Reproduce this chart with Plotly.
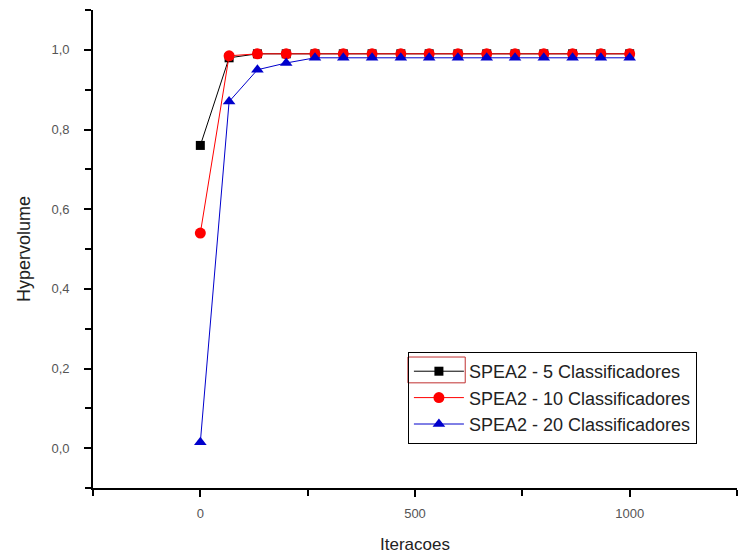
import plotly.graph_objects as go

iteracoes = [0, 67, 133, 200, 267, 333, 400, 467, 533, 600, 667, 733, 800, 867, 933, 1000]
spea2_5 = [0.76, 0.98, 0.99, 0.99, 0.99, 0.99, 0.99, 0.99, 0.99, 0.99, 0.99, 0.99, 0.99, 0.99, 0.99, 0.99]
spea2_10 = [0.54, 0.985, 0.99, 0.99, 0.99, 0.99, 0.99, 0.99, 0.99, 0.99, 0.99, 0.99, 0.99, 0.99, 0.99, 0.99]
spea2_20 = [0.015, 0.87, 0.95, 0.967, 0.98, 0.98, 0.98, 0.98, 0.98, 0.98, 0.98, 0.98, 0.98, 0.98, 0.98, 0.98]

names = ["SPEA2 - 5 Classificadores", "SPEA2 - 10 Classificadores", "SPEA2 - 20 Classificadores"]

fig = go.Figure()
fig.add_trace(go.Scatter(x=iteracoes, y=spea2_5, name=names[0], mode="lines+markers",
                         line=dict(color="black", width=1),
                         marker=dict(symbol="square", size=9, color="black")))
fig.add_trace(go.Scatter(x=iteracoes, y=spea2_10, name=names[1], mode="lines+markers",
                         line=dict(color="red", width=1),
                         marker=dict(symbol="circle", size=11, color="red")))
fig.add_trace(go.Scatter(x=iteracoes, y=spea2_20, name=names[2], mode="lines+markers",
                         line=dict(color="#0000cc", width=1),
                         marker=dict(symbol="triangle-up", size=11, color="#0000cc")))

axis_common = dict(showline=True, linecolor="black", linewidth=1.6, ticks="outside",
                   ticklen=7, tickwidth=1.6, tickcolor="black", showgrid=False, zeroline=False,
                   automargin=False,
                   tickfont=dict(family="Liberation Sans, Arial", size=13, color="#555"),
                   minor=dict(ticks="outside", ticklen=6, tickwidth=1.6, tickcolor="black"))

fig.update_xaxes(range=[-250, 1250], tickvals=[0, 500, 1000], ticktext=["0", "500", "1000"],
                 minor_tickvals=[-250, 250, 750, 1250], ticklabelstandoff=6,
                 title=dict(text="Iteracoes", font=dict(family="Liberation Sans, Arial", size=17, color="#222"), standoff=18),
                 **axis_common)
fig.update_yaxes(range=[-0.1, 1.1], tickvals=[0, 0.2, 0.4, 0.6, 0.8, 1.0],
                 tickformat=".1f", minor_tickvals=[-0.1, 0.1, 0.3, 0.5, 0.7, 0.9, 1.1],
                 ticklabelstandoff=12,
                 title=dict(text="Hypervolume", font=dict(family="Liberation Sans, Arial", size=18, color="#222"), standoff=16),
                 **axis_common)

fig.add_shape(type="rect", xref="paper", yref="paper", x0=0.489, x1=0.578, y0=0.220, y1=0.274,
              line=dict(color="#c03030", width=1))

fig.update_layout(
    width=745, height=557, separators=",.",
    margin=dict(l=93, r=8, t=10, b=69),
    plot_bgcolor="white", paper_bgcolor="white",
    legend=dict(x=0.489, y=0.2845, xanchor="left", yanchor="top", bgcolor="rgba(255,255,255,0)",
                bordercolor="black", borderwidth=1, tracegroupgap=0, itemwidth=50,
                font=dict(family="Liberation Sans, Arial", size=18, color="#222")),
)

fig.write_html("out.html")
